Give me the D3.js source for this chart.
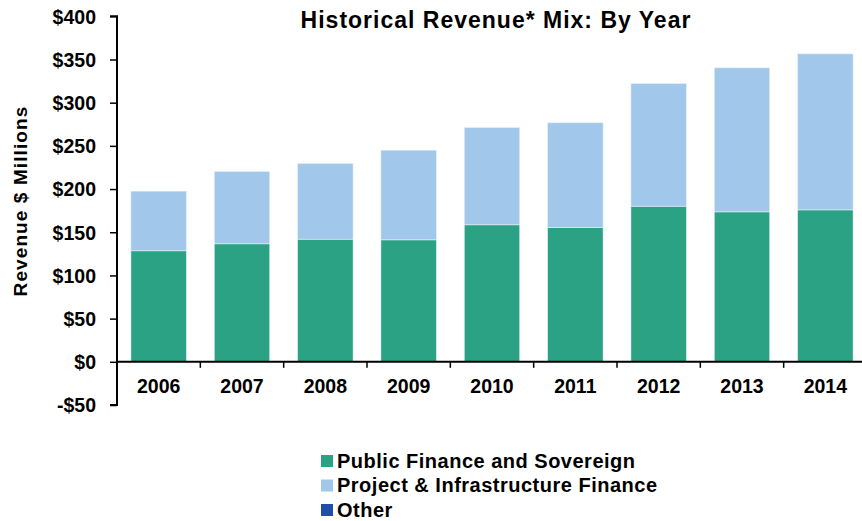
<!DOCTYPE html>
<html>
<head>
<meta charset="utf-8" />
<title>Historical Revenue Mix</title>
<script src="https://d3js.org/d3.v7.min.js"></script>
<style>
  body, html {
    margin: 0;
    background: #ffffff;
    font-family: 'Liberation Sans', Arial, sans-serif;
  }
  text { font-weight: bold; fill: #000; }
</style>
</head>
<body>
<svg id="viz"></svg>

<script>
// values ($ millions)
var years = ["2006", "2007", "2008", "2009", "2010", "2011", "2012", "2013", "2014"];
var publicFinance = [128.5, 136.6, 142.0, 141.2, 158.6, 155.5, 180.2, 173.6, 175.9];
var projectFinance = [69.1, 83.8, 87.6, 103.8, 112.7, 121.2, 142.0, 166.7, 180.6];
var other = [0, 0, 0, 0, 0, 0, 0, 0, 0];
var seriesNames = ["Public Finance and Sovereign", "Project & Infrastructure Finance", "Other"];
var seriesColors = ["#2aa283", "#a1c7ea", "#1f4fa8"];
var yTicks = [-50, 0, 50, 100, 150, 200, 250, 300, 350, 400];

var width = 862, height = 521;

var svg = d3.select("#viz")
  .attr("width", width)
  .attr("height", height);

var rows = years.map(function(y, i) {
  return { year: y, pub: publicFinance[i], proj: projectFinance[i], other: other[i] };
});
var keys = ["pub", "proj", "other"];
var stacked = d3.stack().keys(keys)(rows);

// band range runs past the right edge, as in the original
var xScale = d3.scaleBand()
  .domain(years)
  .range([117, 867])
  .paddingInner(0.334)
  .paddingOuter(0.167);

var yScale = d3.scaleLinear()
  .domain([-50, 400])
  .range([405, 16.3]);

// bars
svg.append("g").selectAll("g")
  .data(stacked)
  .enter().append("g")
    .attr("fill", function(d, i) { return seriesColors[i]; })
  .selectAll("rect")
  .data(function(d) { return d; })
  .enter().append("rect")
    .attr("x", function(d) { return xScale(d.data.year); })
    .attr("width", xScale.bandwidth())
    .attr("y", function(d) { return yScale(d[1]); })
    .attr("height", function(d) { return yScale(d[0]) - yScale(d[1]); })
    .attr("stroke", "#e6f2f8")
    .attr("stroke-width", 0.6);

// y axis
var yAxis = svg.append("g")
  .attr("transform", "translate(117,0)")
  .call(d3.axisLeft(yScale)
    .tickValues(yTicks)
    .tickSize(7)
    .tickPadding(14)
    .tickFormat(function(d) { return d < 0 ? "-$" + Math.abs(d) : "$" + d; }));
yAxis.select(".domain").attr("stroke", "#000").attr("stroke-width", 2)
  .attr("d", "M-7," + yScale(400) + "H0V" + yScale(-50) + "H-7");
yAxis.selectAll(".tick line").attr("stroke", "#000").attr("stroke-width", 1.5);
yAxis.selectAll(".tick text")
  .style("font-size", "19.5px")
  .style("font-family", "'Liberation Sans', Arial, sans-serif")
  .style("font-weight", "bold")
  .attr("dy", "0.35em");

// x axis along zero
var xAxisG = svg.append("g")
  .attr("transform", "translate(0," + yScale(0) + ")");
xAxisG.append("line")
  .attr("x1", 117).attr("x2", width)
  .attr("stroke", "#000").attr("stroke-width", 2);
// ticks between categories
xAxisG.selectAll("line.tk")
  .data(years.slice(1))
  .enter().append("line")
    .attr("class", "tk")
    .attr("x1", function(d) { return xScale(d) - xScale.step() * 0.167; })
    .attr("x2", function(d) { return xScale(d) - xScale.step() * 0.167; })
    .attr("y1", 0).attr("y2", 6)
    .attr("stroke", "#000").attr("stroke-width", 1.5);
xAxisG.selectAll("text")
  .data(years)
  .enter().append("text")
    .attr("x", function(d) { return xScale(d) + xScale.bandwidth() / 2; })
    .attr("y", 31)
    .attr("text-anchor", "middle")
    .style("font-size", "19.5px")
    .text(function(d) { return d; });

// title
svg.append("text")
  .attr("x", 496)
  .attr("y", 27.5)
  .attr("text-anchor", "middle")
  .style("font-size", "23px")
  .style("letter-spacing", "1px")
  .text("Historical Revenue* Mix: By Year");

// y label
svg.append("text")
  .attr("transform", "translate(27,201) rotate(-90)")
  .attr("text-anchor", "middle")
  .style("font-size", "19px")
  .style("letter-spacing", "1.1px")
  .text("Revenue $ Millions");

// legend
var legend = svg.append("g").selectAll("g")
  .data(seriesNames)
  .enter().append("g")
    .attr("transform", function(d, i) { return "translate(321," + (467 + i * 24.5) + ")"; });
legend.append("rect")
  .attr("x", 0).attr("y", -12)
  .attr("width", 12).attr("height", 12)
  .attr("fill", function(d, i) { return seriesColors[i]; });
legend.append("text")
  .attr("x", 16)
  .attr("y", 0.5)
  .style("font-size", "20px")
  .style("letter-spacing", "0.5px")
  .text(function(d) { return d; });
</script>
</body>
</html>
